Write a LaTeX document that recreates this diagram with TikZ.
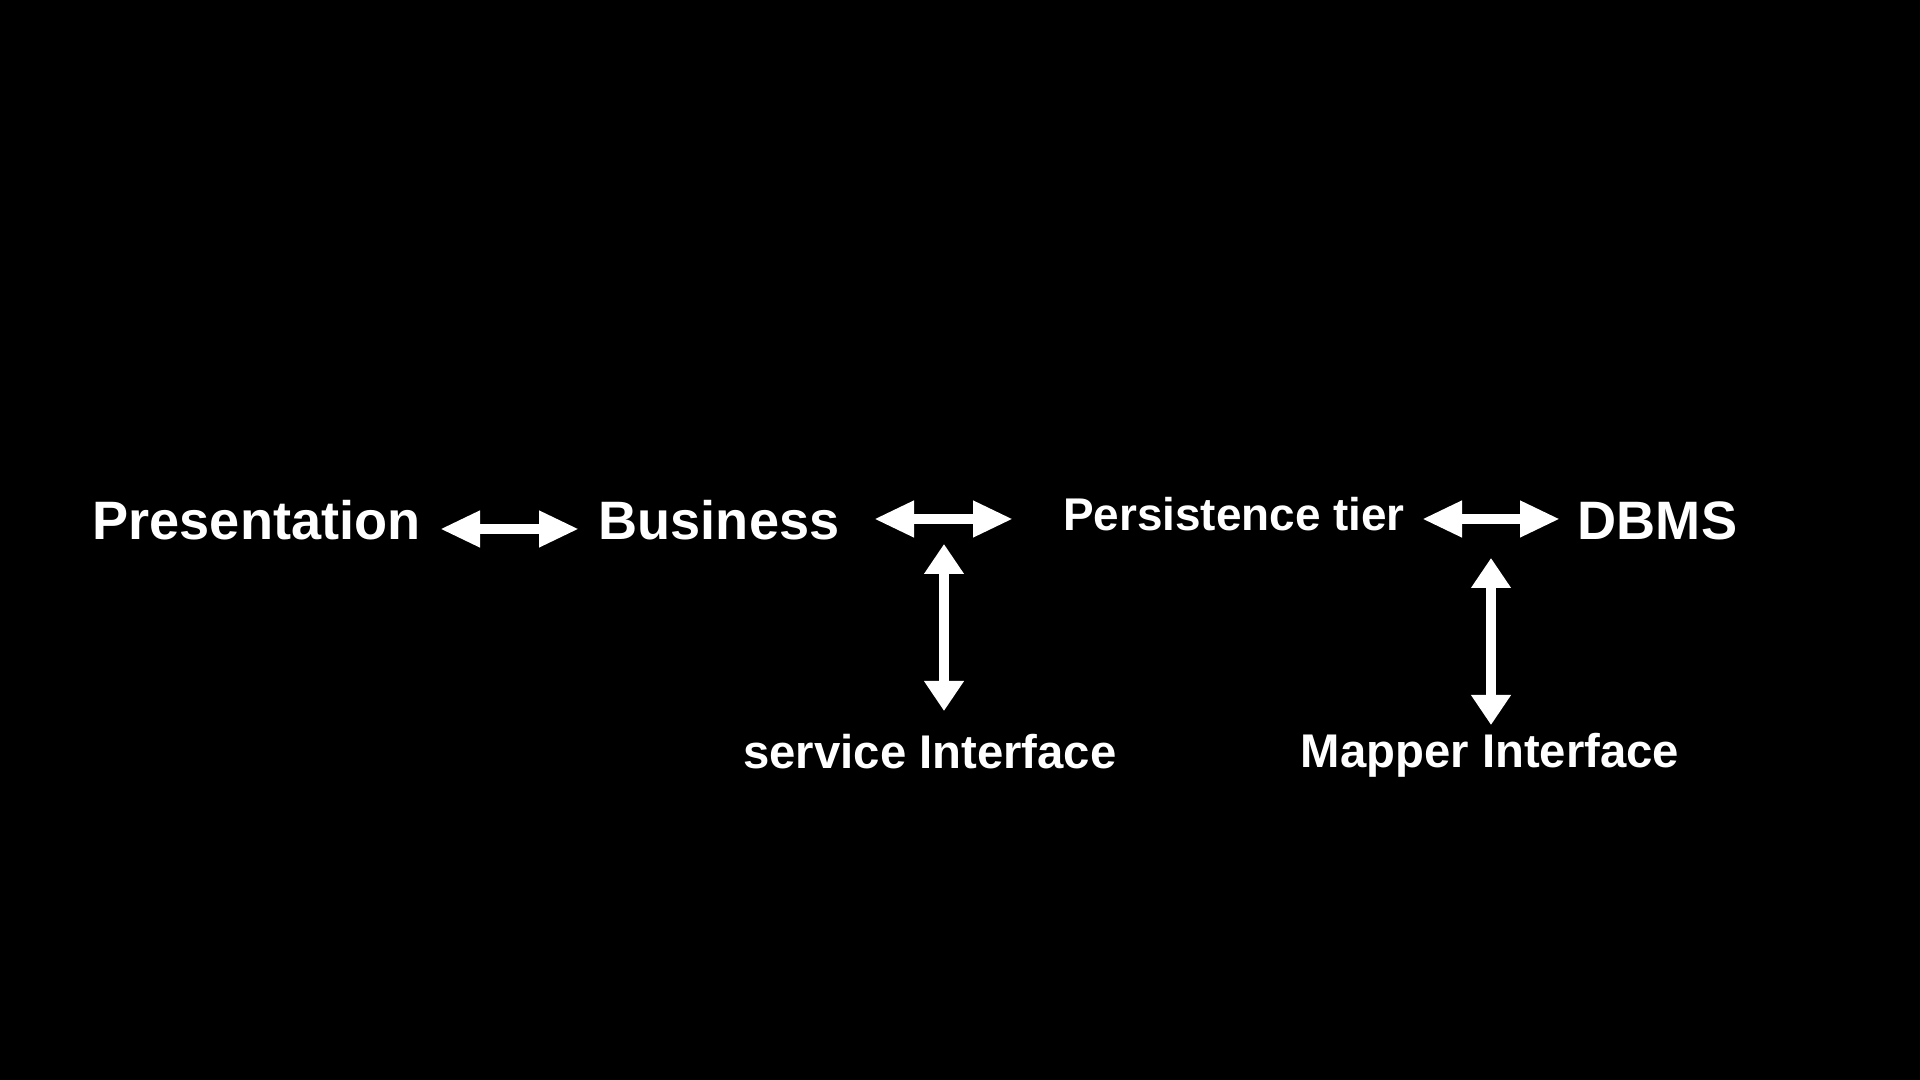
\documentclass[tikz,border=0pt]{standalone}
\usepackage{fontspec}
\setmainfont{Liberation Sans}
\usepackage{xcolor}
\usepackage{tikz}
\usetikzlibrary{arrows.meta,positioning,calc}

\begin{document}
\begin{tikzpicture}[scale=1.0,
  tier/.style={anchor=base,inner sep=0pt,text=white,font=\bfseries\fontsize{15.4}{18}\selectfont},
  iface/.style={anchor=base,inner sep=0pt,text=white,font=\bfseries\fontsize{13.45}{16}\selectfont},
  hlink/.style={white,line width=1.05mm,{Triangle[length=4mm,width=3.4mm]}-{Triangle[length=4mm,width=3.4mm]}},
  vlink/.style={white,line width=1.05mm,{Triangle[length=3mm,width=3.8mm]}-{Triangle[length=3mm,width=3.8mm]}}]
\useasboundingbox (0,0) rectangle (19.2,10.8); \fill[black] (0,0) rectangle (19.2,10.8);
\node[tier] (pres) at (2.565,5.40) {Presentation}; \node[tier] (bus) at (7.19,5.40) {Business};
\node[tier,font=\bfseries\fontsize{13.05}{15}\selectfont] (pers) at (12.34,5.49) {Persistence tier}; \node[tier] (dbms) at (16.575,5.40) {DBMS};
\node[iface] (svc) at (9.30,3.11) {service Interface}; \node[iface] (map) at (14.90,3.12) {Mapper Interface};
\coordinate (a1) at (4.40,5.51); \coordinate (b1) at (5.79,5.51);
\coordinate (a2) at (8.74,5.61); \coordinate (b2) at (10.13,5.61);
\coordinate (a3) at (14.22,5.61); \coordinate (b3) at (15.60,5.61);
\coordinate (v1) at (9.44,5.36); \coordinate (w1) at (9.44,3.69);
\coordinate (v2) at (14.91,5.22); \coordinate (w2) at (14.91,3.55);
\draw[hlink] (a1)--(b1); \draw[hlink] (a2)--(b2); \draw[hlink] (a3)--(b3);
\draw[vlink] (v1)--(w1); \draw[vlink] (v2)--(w2);
\end{tikzpicture}
\end{document}
